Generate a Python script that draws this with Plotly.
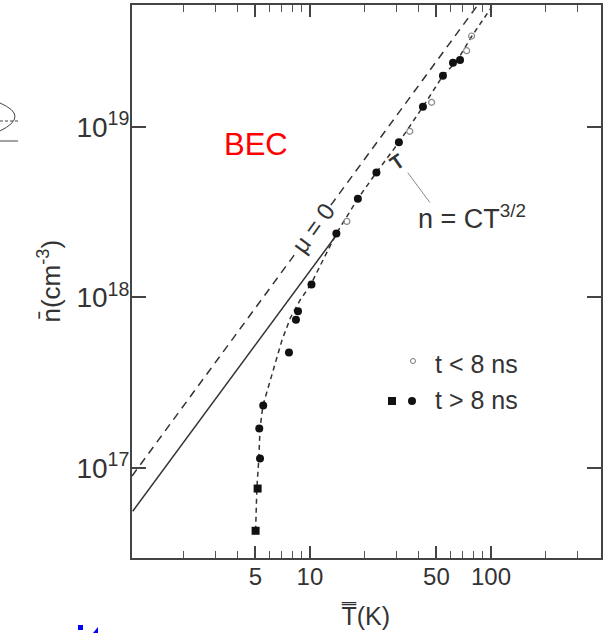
import numpy as np
import plotly.graph_objects as go

# ---- data ----
# filled points (t > 8 ns), circles
filled_T = [67.5, 61.7, 54.3, 42.1, 31.0, 23.3, 18.4, 14.0, 10.2, 8.59, 8.37, 7.66, 5.52, 5.25, 5.30]
filled_n = [2.46e19, 2.37e19, 1.99e19, 1.31e19, 8.1e18, 5.4e18, 3.79e18, 2.37e18, 1.19e18,
            8.3e17, 7.4e17, 4.76e17, 2.33e17, 1.71e17, 1.14e17]
# filled squares (t > 8 ns)
square_T = [5.14, 5.01]
square_n = [7.6e16, 4.3e16]
# open points (t < 8 ns)
open_T = [78.2, 73.4, 47.0, 35.6, 16.0]
open_n = [3.4e19, 2.79e19, 1.39e19, 9.4e18, 2.79e18]
# dashed guide through the data
guide_T = [5.01, 5.09, 5.22, 5.30, 5.50, 6.01, 6.5, 7.0, 7.8, 8.8, 10.1, 14.0, 18.4, 23.3, 31.0,
           42.1, 54.3, 64.9, 78.5, 101]
guide_n = [4.3e16, 7.6e16, 1.14e17, 1.71e17, 2.33e17, 3.18e17, 4.3e17, 5.6e17, 7.6e17, 9.6e17, 1.19e18,
           2.37e18, 3.79e18, 5.4e18, 8.1e18, 1.31e19, 1.99e19, 2.43e19, 3.4e19, 5.03e19]
# mu = 0 line (dashed) and n = C T^{3/2} line (solid)
mu0_T = [1.04, 84.5]
mu0_n = [9.0e16, 5.16e19]
solid_T = [1.05, 14.05]
solid_n = [5.6e16, 2.33e18]
# pointer from label to mark
pointer_T = [34.7, 46.0]
pointer_n = [5.38e18, 3.6e18]

x_major = [5, 10, 50, 100]
x_major_text = ["5", "10", "50", "100"]
x_minor = [2, 3, 4, 6, 7, 8, 9, 20, 30, 40, 60, 70, 80, 90, 200, 300]
y_major = [1e17, 1e18, 1e19]
y_major_text = ["10<sup>17</sup>", "10<sup>18</sup>", "10<sup>19</sup>"]

FONT = "Liberation Sans"
INK = "#333333"

fig = go.Figure()
fig.add_trace(go.Scatter(x=mu0_T, y=mu0_n, mode="lines",
                         line=dict(color=INK, width=1.5, dash="8px,6px"), hoverinfo="skip"))
fig.add_trace(go.Scatter(x=solid_T, y=solid_n, mode="lines",
                         line=dict(color=INK, width=1.5), hoverinfo="skip"))
fig.add_trace(go.Scatter(x=guide_T, y=guide_n, mode="lines",
                         line=dict(color=INK, width=1.5, dash="5px,4px"),
                         hoverinfo="skip"))
fig.add_trace(go.Scatter(x=pointer_T, y=pointer_n, mode="lines",
                         line=dict(color="#888888", width=1), hoverinfo="skip"))
fig.add_trace(go.Scatter(x=open_T, y=open_n, mode="markers",
                         marker=dict(symbol="circle-open", size=6, color="#888888", line=dict(width=1.2))))
fig.add_trace(go.Scatter(x=filled_T, y=filled_n, mode="markers",
                         marker=dict(symbol="circle", size=8, color="#111111")))
fig.add_trace(go.Scatter(x=square_T, y=square_n, mode="markers",
                         marker=dict(symbol="square", size=8, color="#111111")))

L, R, T, B = 132, 10, 5, 75
W, H = 611, 633
pw, ph = W - L - R, H - T - B


def px(x):
    return (x - L) / pw


def py(y):
    return (H - B - y) / ph


annotations = [
    dict(x=np.log10(5.03), y=np.log10(7.85e18), xref="x", yref="y", text="BEC", showarrow=False,
         font=dict(family=FONT, size=31, color="#ff0000")),
    dict(x=np.log10(10.5), y=18.408, xref="x", yref="y", text="μ = 0", showarrow=False,
         textangle=-54, bgcolor="white", borderpad=0,
         font=dict(family=FONT, size=24, color=INK)),
    dict(x=np.log10(30.3), y=np.log10(6.2e18), xref="x", yref="y", text="<b>T</b>", showarrow=False,
         textangle=-35, font=dict(family=FONT, size=20, color=INK)),
    dict(x=1.586, y=18.47, xref="x", yref="y", text="n = CT<sup>3/2</sup>", showarrow=False,
         xanchor="left", yanchor="middle", font=dict(family=FONT, size=27, color=INK)),
    dict(x=px(433), y=py(364), xref="paper", yref="paper", text="t &lt; 8 ns", showarrow=False,
         xanchor="left", yanchor="middle", font=dict(family=FONT, size=25, color=INK)),
    dict(x=px(433), y=py(400), xref="paper", yref="paper", text="t &gt; 8 ns", showarrow=False,
         xanchor="left", yanchor="middle", font=dict(family=FONT, size=25, color=INK)),
    dict(x=px(31), y=py(281), xref="paper", yref="paper", text="n̄(cm<sup>-3</sup>)",
         showarrow=False, textangle=-90, font=dict(family=FONT, size=26, color=INK)),
    dict(x=px(365), y=py(632), xref="paper", yref="paper", text="T̿(K)", showarrow=False,
         font=dict(family=FONT, size=25, color=INK)),
]

shapes = [
    # legend symbols
    dict(type="circle", xref="paper", yref="paper", x0=px(410.5), x1=px(415.5), y0=py(358.5), y1=py(363.5),
         line=dict(color="#777777", width=1)),
    dict(type="rect", xref="paper", yref="paper", x0=px(388), x1=px(396), y0=py(405), y1=py(397),
         fillcolor="#111111", line=dict(width=0)),
    dict(type="circle", xref="paper", yref="paper", x0=px(408), x1=px(416), y0=py(405), y1=py(397),
         fillcolor="#111111", line=dict(width=0)),
    # fragment of neighbouring drawing at left edge
    dict(type="path", xref="paper", yref="paper",
         path=f"M {px(0)},{py(103)} Q {px(30)},{py(116)} {px(0)},{py(131)}",
         line=dict(color="#444444", width=1)),
    dict(type="line", xref="paper", yref="paper", x0=px(0), x1=px(18), y0=py(121), y1=py(121),
         line=dict(color="#444444", width=1, dash="3px,2px")),
    dict(type="line", xref="paper", yref="paper", x0=px(0), x1=px(18), y0=py(141), y1=py(141),
         line=dict(color="#444444", width=1)),
    # blue fragment at bottom
    dict(type="rect", xref="paper", yref="paper", x0=px(78), x1=px(83), y0=py(630), y1=py(625),
         fillcolor="#0000ff", line=dict(width=0)),
    dict(type="path", xref="paper", yref="paper",
         path=f"M {px(93)},{py(633)} L {px(98)},{py(627)} L {px(98)},{py(633)} Z",
         fillcolor="#0000ff", line=dict(width=0)),
]

fig.update_layout(
    width=W, height=H,
    margin=dict(l=L, r=R, t=T, b=B, autoexpand=False),
    paper_bgcolor="white", plot_bgcolor="white",
    showlegend=False,
    annotations=annotations,
    shapes=shapes,
    font=dict(family=FONT, color=INK),
)
fig.update_xaxes(
    type="log", range=[0.017, 2.608], automargin=False,
    tickvals=x_major, ticktext=x_major_text,
    ticks="inside", ticklen=12, tickwidth=1.5, tickcolor="#444444",
    minor=dict(tickvals=x_minor, ticks="inside", ticklen=7, tickwidth=1.2, tickcolor="#555555"),
    showline=True, linecolor="#444444", linewidth=2, mirror="ticks",
    showgrid=False, zeroline=False,
    tickfont=dict(family=FONT, size=24, color=INK), ticklabelstandoff=-4,
)
fig.update_yaxes(
    type="log", range=[16.474, 19.713], automargin=False,
    tickvals=y_major, ticktext=y_major_text,
    ticks="inside", ticklen=14, tickwidth=1.5, tickcolor="#444444",
    showline=True, linecolor="#444444", linewidth=2, mirror="ticks",
    showgrid=False, zeroline=False,
    tickfont=dict(family=FONT, size=28, color=INK), ticklabelstandoff=-5,
)

fig.write_html("out.html", config={"displayModeBar": False},
               post_script="document.body.style.margin='0';document.body.style.overflow='hidden';")
